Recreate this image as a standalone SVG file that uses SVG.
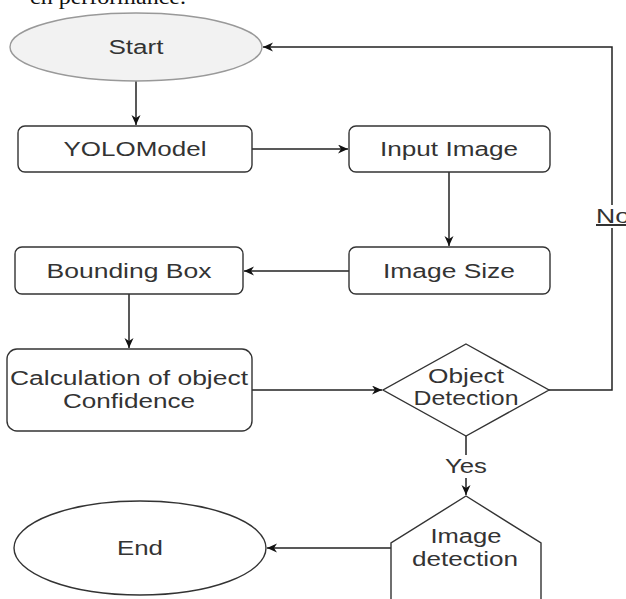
<svg xmlns="http://www.w3.org/2000/svg" width="626" height="599" viewBox="0 0 626 599">
<style>
.box{fill:#fff;stroke:#333;stroke-width:1.4}
.lbl{font-family:"Liberation Sans",Arial,sans-serif;font-size:20px;fill:#333;text-anchor:middle}
.edge{fill:none;stroke:#222;stroke-width:1.5}
.top{font-family:"Liberation Serif","Times New Roman",serif;font-size:21px;fill:#111}
</style>
<defs>
<marker id="arr" markerUnits="userSpaceOnUse" markerWidth="12" markerHeight="10" refX="10" refY="4.5" orient="auto">
<path d="M0,0 L10,4.5 L0,9 L3,4.5 z" fill="#111"/>
</marker>
</defs>
<rect width="626" height="599" fill="#fff"/>
<text class="top" x="30" y="4" textLength="156" lengthAdjust="spacingAndGlyphs">ch performance.</text>
<g id="edges">
<path class="edge" d="M136,81 V125" marker-end="url(#arr)"/>
<path class="edge" d="M252,149 H348" marker-end="url(#arr)"/>
<path class="edge" d="M449,172 V246" marker-end="url(#arr)"/>
<path class="edge" d="M349,271 H244" marker-end="url(#arr)"/>
<path class="edge" d="M129,294 V348" marker-end="url(#arr)"/>
<path class="edge" d="M252,390 H382" marker-end="url(#arr)"/>
<path class="edge" d="M549,390 H612 V47 H263" marker-end="url(#arr)"/>
<path class="edge" d="M466,436 V495" marker-end="url(#arr)"/>
<path class="edge" d="M391,548 H267" marker-end="url(#arr)"/>
<rect x="594" y="205" width="32" height="23" fill="#fff"/>
<text class="lbl" x="596" y="223" style="text-anchor:start;text-decoration:underline" textLength="34" lengthAdjust="spacingAndGlyphs">No</text>
<rect x="443" y="455" width="46" height="23" fill="#fff"/>
<text class="lbl" x="466" y="473" textLength="42" lengthAdjust="spacingAndGlyphs">Yes</text>
</g>
<g id="start">
<ellipse cx="136" cy="47" rx="126" ry="34" fill="#f2f2f2" stroke="#999" stroke-width="1.4"/>
<text class="lbl" x="136" y="54" textLength="55" lengthAdjust="spacingAndGlyphs">Start</text>
</g>
<g id="yolo">
<rect class="box" x="18" y="126" width="234" height="46" rx="7"/>
<text class="lbl" x="135" y="156" textLength="143" lengthAdjust="spacingAndGlyphs">YOLOModel</text>
</g>
<g id="input">
<rect class="box" x="349" y="126" width="201" height="46" rx="7"/>
<text class="lbl" x="449" y="156" textLength="138" lengthAdjust="spacingAndGlyphs">Input Image</text>
</g>
<g id="size">
<rect class="box" x="349" y="247" width="201" height="47" rx="7"/>
<text class="lbl" x="449" y="278" textLength="132" lengthAdjust="spacingAndGlyphs">Image Size</text>
</g>
<g id="bbox">
<rect class="box" x="15" y="247" width="228" height="47" rx="7"/>
<text class="lbl" x="129" y="278" textLength="165" lengthAdjust="spacingAndGlyphs">Bounding Box</text>
</g>
<g id="calc">
<rect class="box" x="7" y="349" width="245" height="82" rx="10"/>
<text class="lbl" x="129" y="385" textLength="238" lengthAdjust="spacingAndGlyphs">Calculation of object</text>
<text class="lbl" x="129" y="408" textLength="132" lengthAdjust="spacingAndGlyphs">Confidence</text>
</g>
<g id="decision">
<polygon class="box" points="466,344 549,390 466,436 383,390"/>
<text class="lbl" x="466" y="383" textLength="76" lengthAdjust="spacingAndGlyphs">Object</text>
<text class="lbl" x="466" y="405" textLength="105" lengthAdjust="spacingAndGlyphs">Detection</text>
</g>
<g id="imgdet">
<path class="box" d="M391,605 V543 L466,496 L541,543 V605 Z"/>
<text class="lbl" x="466" y="543" textLength="71" lengthAdjust="spacingAndGlyphs">Image</text>
<text class="lbl" x="465" y="566" textLength="106" lengthAdjust="spacingAndGlyphs">detection</text>
</g>
<g id="end">
<ellipse class="box" cx="140" cy="548" rx="126" ry="47"/>
<text class="lbl" x="140" y="555" textLength="46" lengthAdjust="spacingAndGlyphs">End</text>
</g>
</svg>
